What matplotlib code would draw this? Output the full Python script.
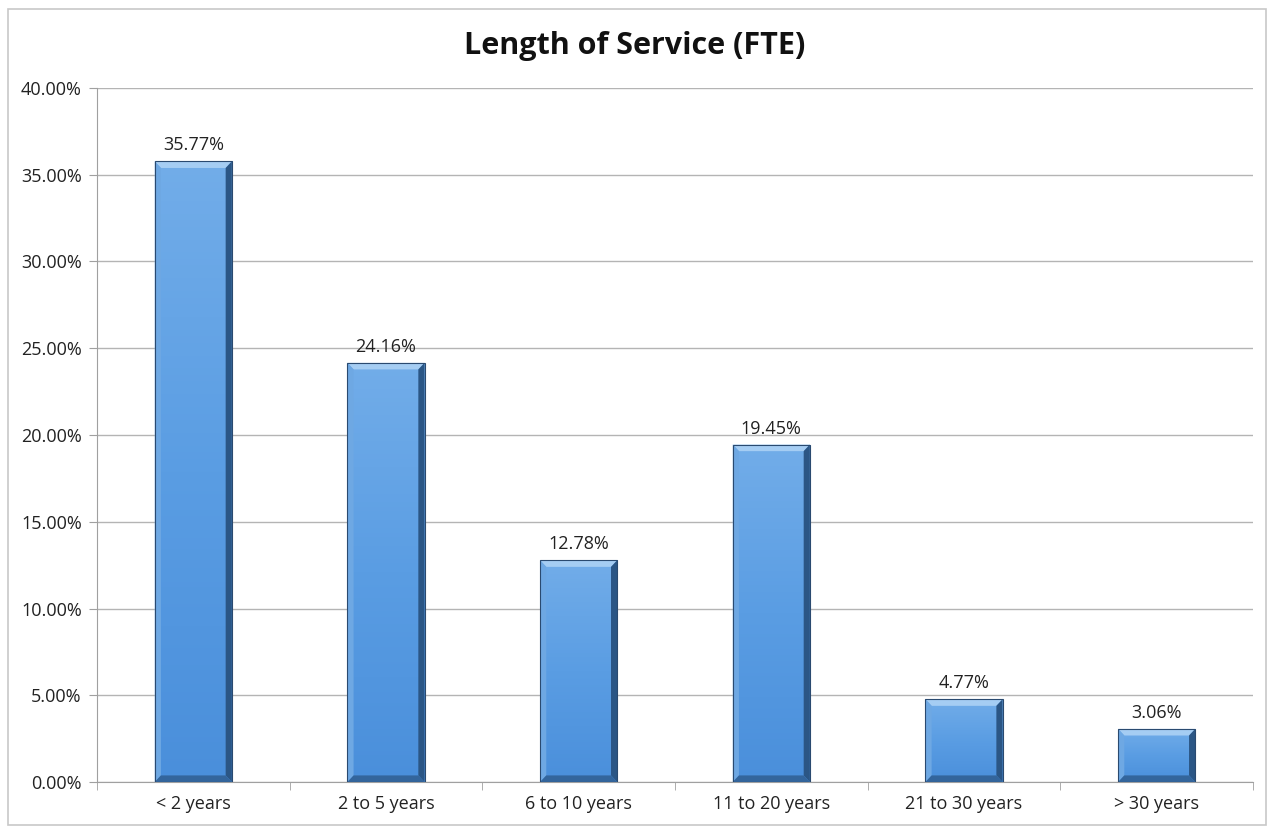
import numpy as np
import matplotlib.pyplot as plt
from matplotlib.patches import Rectangle, Polygon
from matplotlib.colors import LinearSegmentedColormap

categories = ['< 2 years', '2 to 5 years', '6 to 10 years', '11 to 20 years', '21 to 30 years', '> 30 years']
shares = [35.77, 24.16, 12.78, 19.45, 4.77, 3.06]

plt.rcParams['font.family'] = ['Open Sans', 'DejaVu Sans']

fig = plt.figure(figsize=(12.69, 8.27), dpi=100)
ax = fig.add_axes([0.0764, 0.0544, 0.911, 0.8392])

# outer chart border
fig.patches.append(Rectangle((0.006, 0.002), 0.992, 0.987, transform=fig.transFigure,
                             fill=False, edgecolor='#c8c8c8', linewidth=1.2))

x = np.arange(len(categories))
bars = ax.bar(x, shares, width=0.4, color='#5b9fe2', edgecolor='none', zorder=3)

# bevel shading inside each bar
cmap = LinearSegmentedColormap.from_list('fill', ['#4a8fdb', '#5a9de3', '#72ade9'])
grad = np.linspace(0, 1, 256).reshape(-1, 1)
bx, by = 0.032, 0.38  # bevel width in data units
for b in bars:
    x0, w, h = b.get_x(), b.get_width(), b.get_height()
    im = ax.imshow(grad, cmap=cmap, aspect='auto', origin='lower',
                   extent=(x0, x0 + w, 0, h), zorder=3.5, interpolation='bicubic')
    im.set_clip_path(b)
    x1 = x0 + w
    # top (light), left (light), right (dark), bottom (dark)
    ax.add_patch(Polygon([(x0, h), (x1, h), (x1 - bx, h - by), (x0 + bx, h - by)],
                         facecolor='#a5cdf3', edgecolor='none', zorder=4))
    ax.add_patch(Polygon([(x0, 0), (x0, h), (x0 + bx, h - by), (x0 + bx, by)],
                         facecolor='#6ea8e3', edgecolor='none', zorder=4))
    ax.add_patch(Polygon([(x1, 0), (x1, h), (x1 - bx, h - by), (x1 - bx, by)],
                         facecolor='#2b5685', edgecolor='none', zorder=4))
    ax.add_patch(Polygon([(x0, 0), (x1, 0), (x1 - bx, by), (x0 + bx, by)],
                         facecolor='#33659c', edgecolor='none', zorder=4))
    ax.add_patch(Rectangle((x0, 0), w, h, fill=False, edgecolor='#2a4a70', linewidth=0.8, zorder=5))
    ax.text(x0 + w / 2, h + 0.4, f'{h:.2f}%', ha='center', va='bottom', fontsize=13, color='#222222')

ax.set_xlim(-0.5, len(categories) - 0.5)
ax.set_ylim(0, 40)
ax.set_yticks(np.arange(0, 40.1, 5))
ax.set_yticklabels([f'{v:.2f}%' for v in np.arange(0, 40.1, 5)], fontsize=13, color='#222222')
ax.set_xticks(x)
ax.set_xticklabels(categories, fontsize=13, color='#222222')
ax.set_xticks(np.arange(-0.5, len(categories)), minor=True)
ax.tick_params(axis='x', which='major', length=0, pad=9)
ax.tick_params(axis='x', which='minor', length=6, color='#a0a0a0')
ax.tick_params(axis='y', length=6, color='#a0a0a0', pad=5)
ax.grid(axis='y', color='#b4b4b4', linewidth=1, zorder=0)
for s in ['top', 'right']:
    ax.spines[s].set_visible(False)
for s in ['left', 'bottom']:
    ax.spines[s].set_color('#a0a0a0')

fig.text(0.5, 0.944, 'Length of Service (FTE)', ha='center', va='center',
         fontsize=22, fontweight='bold', color='#111111')

fig.savefig('out.png', dpi=100)
